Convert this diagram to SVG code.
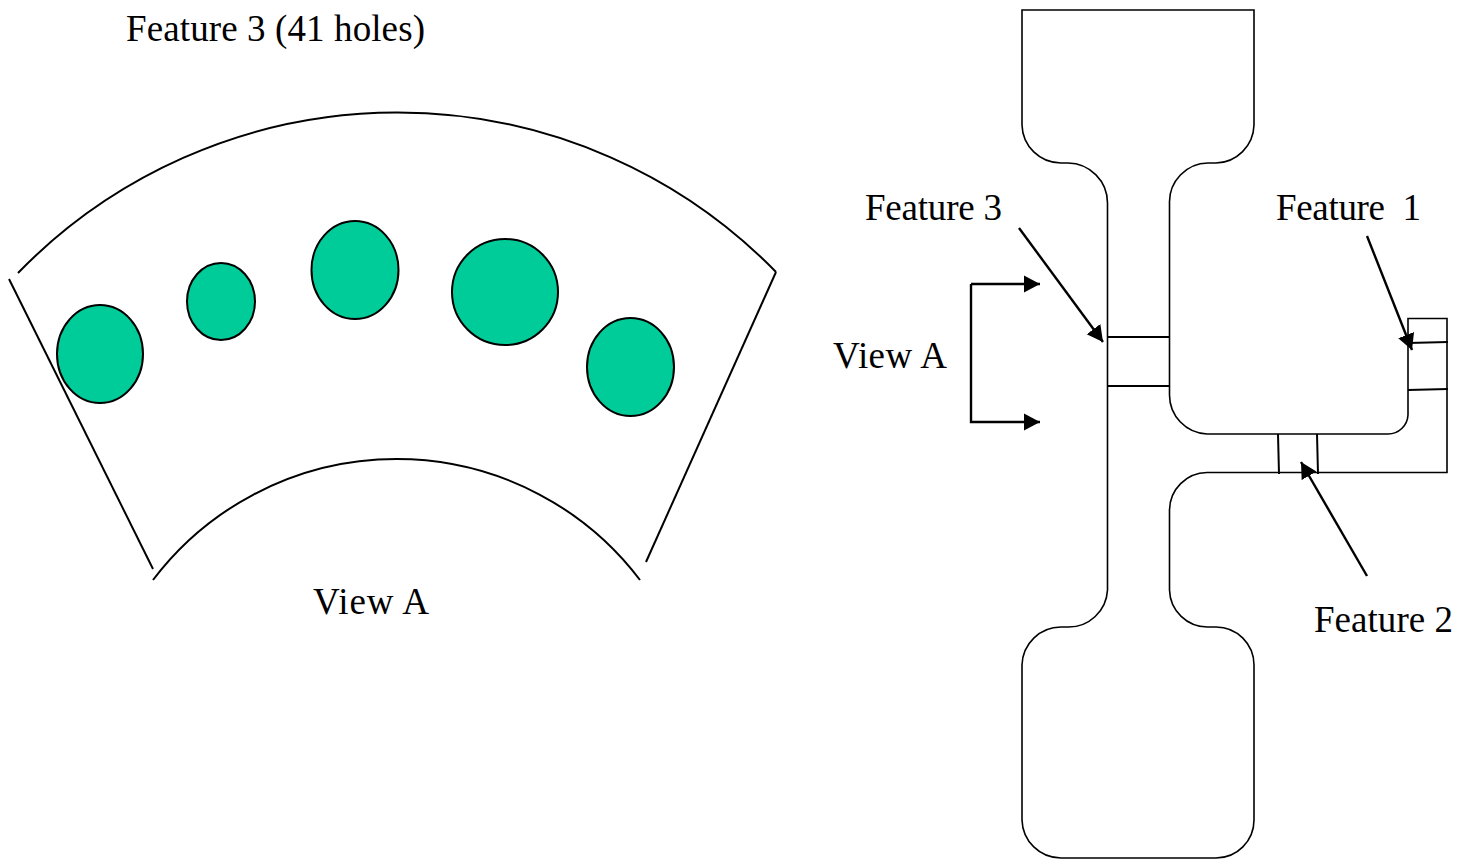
<svg xmlns="http://www.w3.org/2000/svg" width="1470" height="859" viewBox="0 0 1470 859">
<style>
text{font-family:"Liberation Serif","Times New Roman",serif;font-size:37px;fill:#000}
.l{fill:none;stroke:#000;stroke-width:2}
.c{fill:none;stroke:#000;stroke-width:2.400}
.t{fill:none;stroke:#000;stroke-width:1.600}
.h{fill:#00CC99;stroke:#000;stroke-width:2}
</style>
<defs>
<marker id="a" markerUnits="userSpaceOnUse" markerWidth="18" markerHeight="18" refX="16" refY="9" orient="auto"><path d="M0 0.500L16 9L0 17.500Z" fill="#000"/></marker>
</defs>
<rect width="1470" height="859" fill="#fff"/>
<g id="view-a-section">
<path class="l" d="M18 273A529 529 0 0 1 776 272"/>
<path class="l" d="M153 580A305.500 305.500 0 0 1 640 580"/>
<path class="l" d="M9 279L153 569"/>
<path class="l" d="M776 272L646 562"/>
</g>
<g id="hole-1"><ellipse class="h" cx="100" cy="354" rx="43" ry="49"/></g>
<g id="hole-2"><ellipse class="h" cx="221" cy="301.500" rx="34" ry="38.500"/></g>
<g id="hole-3"><ellipse class="h" cx="355" cy="270" rx="43.500" ry="49"/></g>
<g id="hole-4"><ellipse class="h" cx="505" cy="292" rx="53" ry="53"/></g>
<g id="hole-5"><ellipse class="h" cx="630.500" cy="367" rx="43.500" ry="49"/></g>
<g id="specimen">
<path class="t" d="M1022 10H1254V125A39 39 0 0 1 1216 163H1208A39 39 0 0 0 1169.500 203V395A39 39 0 0 0 1207 434H1388A20 20 0 0 0 1408 415V318.500H1447V472.500H1207A38 38 0 0 0 1169.500 510V590A38 38 0 0 0 1208 627H1216A38 38 0 0 1 1254 665V820A38 38 0 0 1 1216 858H1061A39 39 0 0 1 1022 820V665A39 39 0 0 1 1061 627H1068A39 39 0 0 0 1107.500 590V203A40 40 0 0 0 1068 163H1061A39 39 0 0 1 1022 125Z"/>
<path class="l" d="M1107 337H1170M1107 386H1170M1408 343L1448 342M1408 390L1448 389M1278 434L1279 474M1317 434L1318 474"/>
</g>
<g id="connectors">
<path class="c" d="M971 353V284"/>
<path class="c" marker-end="url(#a)" d="M971 284H1040"/>
<path class="c" marker-end="url(#a)" d="M971 353V422H1040"/>
<path class="c" marker-end="url(#a)" d="M1019 228L1103 342"/>
<path class="c" marker-end="url(#a)" d="M1367 236L1412 350"/>
<path class="c" marker-end="url(#a)" d="M1367 576L1301 462"/>
</g>
<g id="labels">
<text x="126" y="41" textLength="299">Feature 3 (41 holes)</text>
<text x="313" y="614" textLength="116">View A</text>
<text x="865" y="220" textLength="137">Feature 3</text>
<text x="1276" y="220" textLength="145" xml:space="preserve">Feature  1</text>
<text x="833" y="368" textLength="114">View A</text>
<text x="1314" y="632" textLength="139">Feature 2</text>
</g>
</svg>
